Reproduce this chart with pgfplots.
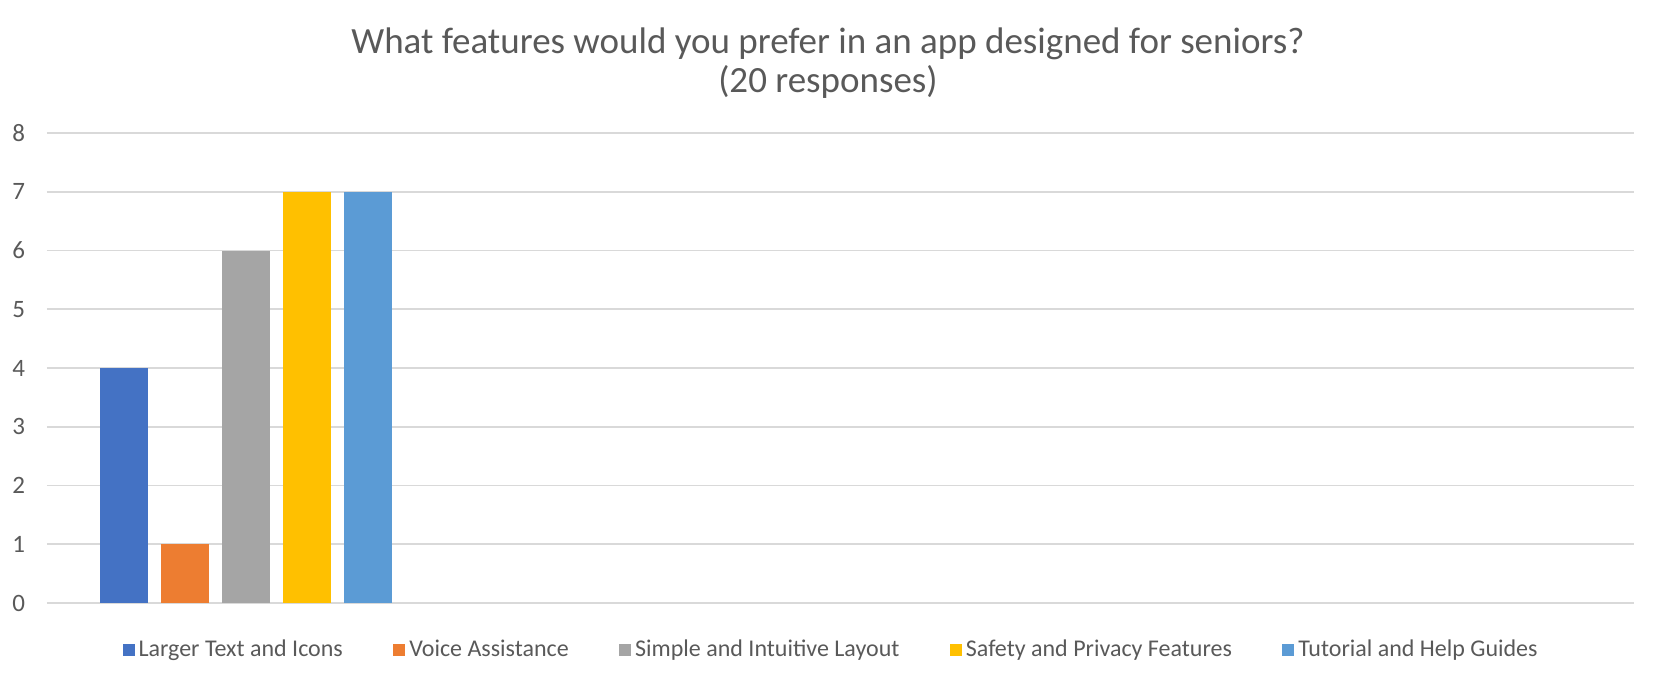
\documentclass[border=0pt]{standalone}
\usepackage{pgfplots}
\pgfplotsset{compat=1.18}
\usepackage{fontspec}
\setmainfont{Carlito}
\definecolor{txt}{HTML}{595959}
\definecolor{gridc}{HTML}{D9D9D9}
\definecolor{c1}{HTML}{4472C4}
\definecolor{c2}{HTML}{ED7D31}
\definecolor{c3}{HTML}{A5A5A5}
\definecolor{c4}{HTML}{FFC000}
\definecolor{c5}{HTML}{5B9BD5}
\begin{document}
\begin{tikzpicture}[x=0.5pt,y=0.5pt]
\begin{axis}[
  at={(0,0)}, anchor=origin,
  scale only axis,
  width=793.5pt, height=235pt,
  xmin=47, xmax=1634, ymin=0, ymax=8,
  ytick={0,1,...,8},
  xtick=\empty,
  axis line style={draw=none},
  tick style={draw=none},
  ymajorgrids,
  every axis grid/.style={},
  major grid style={draw=gridc, line width=0.8pt},
  major tick length=0pt,
  /pgf/number format/assume math mode=true,
  yticklabel style={font=\fontsize{12.5}{14}\selectfont, text=txt, xshift=-7.5pt},
  ybar, bar width=24pt, bar shift=0pt,
  legend columns=5,
  legend style={at={(0.4947,-0.1)}, anchor=center, draw=none, fill=none,
    font=\fontsize{12}{14}\selectfont, text=txt,
    /tikz/every even column/.append style={column sep=23.2pt}},
  legend image code/.code={\fill[#1,draw=none] (0pt,-3pt) rectangle (6pt,3pt);},
  clip=false,
]
\addplot[fill=c1, draw=none] coordinates {(124,4)};
\addlegendentry{Larger Text and Icons}
\addplot[fill=c2, draw=none] coordinates {(185,1)};
\addlegendentry{Voice Assistance}
\addplot[fill=c3, draw=none] coordinates {(246,6)};
\addlegendentry{Simple and Intuitive Layout}
\addplot[fill=c4, draw=none] coordinates {(307,7)};
\addlegendentry{Safety and Privacy Features}
\addplot[fill=c5, draw=none] coordinates {(367.5,7)};
\addlegendentry{Tutorial and Help Guides}
\node[font=\fontsize{18.5}{20}\selectfont, text=txt] at (rel axis cs:0.4921,1) [yshift=44.5pt] {What features would you prefer in an app designed for seniors?};
\node[font=\fontsize{18.5}{20}\selectfont, text=txt] at (rel axis cs:0.4921,1) [yshift=25.5pt] {(20 responses)};
\end{axis}
\path[use as bounding box] (-23.5pt,-41.5pt) rectangle (804.5pt,301.5pt);
\end{tikzpicture}
\end{document}
